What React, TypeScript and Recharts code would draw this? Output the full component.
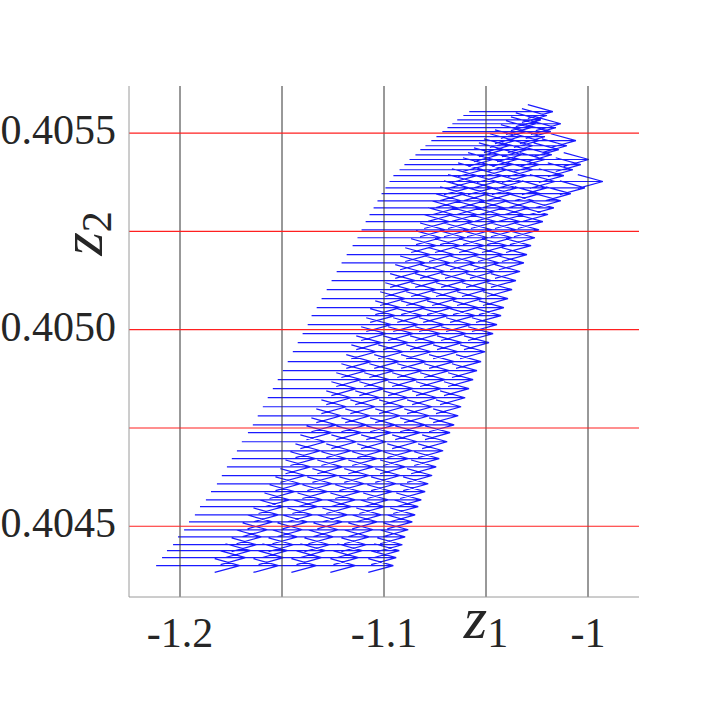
import React from 'react';
import { ComposedChart, Line, XAxis, YAxis } from 'recharts';

// row heights (z2) shared by every column of the quiver
const ROW_Y = [
  0.404400, 0.404420, 0.404438, 0.404453, 0.404473, 0.404491, 0.404511, 0.404529, 0.404550, 0.404567,
  0.404588, 0.404608, 0.404629, 0.404651, 0.404672, 0.404692, 0.404715, 0.404738, 0.404758, 0.404781,
  0.404804, 0.404827, 0.404850, 0.404873, 0.404896, 0.404919, 0.404944, 0.404967, 0.404990, 0.405013,
  0.405036, 0.405056, 0.405079, 0.405102, 0.405125, 0.405148, 0.405170, 0.405191, 0.405214, 0.405234,
  0.405254, 0.405275, 0.405293, 0.405310, 0.405328, 0.405346, 0.405361, 0.405377, 0.405392, 0.405407,
  0.405420, 0.405433, 0.405445, 0.405458, 0.405468, 0.405481, 0.405491, 0.405504, 0.405514, 0.405524,
  0.405534, 0.405545, 0.405555,
];

// arrow tails (z1) for each column, bottom row first
const COL0_X = [
  -1.2117, -1.2088, -1.2064, -1.2034, -1.2010, -1.1980, -1.1956, -1.1927, -1.1902, -1.1873,
  -1.1848, -1.1819, -1.1795, -1.1770, -1.1746, -1.1721, -1.1697, -1.1667, -1.1643, -1.1619,
  -1.1594, -1.1570, -1.1545, -1.1521, -1.1496, -1.1472, -1.1447, -1.1423, -1.1399, -1.1374,
  -1.1355, -1.1330, -1.1306, -1.1281, -1.1257, -1.1232, -1.1208, -1.1183, -1.1154, -1.1130,
  -1.1110, -1.1090, -1.1071, -1.1051, -1.1032, -1.1012, -1.0993, -1.0973, -1.0954, -1.0924,
  -1.0900, -1.0875, -1.0846, -1.0822, -1.0797, -1.0768, -1.0743, -1.0714, -1.0689, -1.0665,
  -1.0641, -1.0611, -1.0582,
];
const COL1_X = [
  -1.1927, -1.1902, -1.1883, -1.1853, -1.1834, -1.1809, -1.1785, -1.1760, -1.1736, -1.1711,
  -1.1687, -1.1663, -1.1638, -1.1614, -1.1594, -1.1570, -1.1545, -1.1521, -1.1496, -1.1477,
  -1.1452, -1.1428, -1.1408, -1.1384, -1.1359, -1.1335, -1.1315, -1.1291, -1.1267, -1.1242,
  -1.1222, -1.1203, -1.1178, -1.1154, -1.1134, -1.1110, -1.1086, -1.1066, -1.1037, -1.1012,
  -1.0993, -1.0973, -1.0954, -1.0934, -1.0914, -1.0895, -1.0875, -1.0856, -1.0831, -1.0807,
  -1.0782, -1.0758, -1.0733, -1.0709, -1.0680, -1.0650, -1.0621, -1.0592, -1.0567, -1.0543,
];
const COL2_X = [
  -1.1741, -1.1716, -1.1697, -1.1677, -1.1658, -1.1633, -1.1614, -1.1589, -1.1570, -1.1550,
  -1.1526, -1.1506, -1.1482, -1.1462, -1.1443, -1.1418, -1.1399, -1.1374, -1.1355, -1.1330,
  -1.1311, -1.1291, -1.1267, -1.1247, -1.1222, -1.1203, -1.1178, -1.1159, -1.1134, -1.1115,
  -1.1095, -1.1076, -1.1051, -1.1032, -1.1007, -1.0988, -1.0963, -1.0944, -1.0919, -1.0900,
  -1.0880, -1.0861, -1.0841, -1.0822, -1.0802, -1.0782, -1.0758, -1.0733, -1.0709, -1.0680,
  -1.0650, -1.0621, -1.0587, -1.0553, -1.0513, -1.0469,
];
const COL3_X = [
  -1.1550, -1.1535, -1.1516, -1.1496, -1.1482, -1.1462, -1.1443, -1.1423, -1.1408, -1.1389,
  -1.1369, -1.1350, -1.1330, -1.1306, -1.1291, -1.1271, -1.1247, -1.1232, -1.1208, -1.1188,
  -1.1174, -1.1149, -1.1130, -1.1110, -1.1090, -1.1066, -1.1046, -1.1027, -1.1007, -1.0983,
  -1.0963, -1.0949, -1.0929, -1.0905, -1.0885, -1.0866, -1.0846, -1.0826, -1.0807, -1.0782,
  -1.0763, -1.0743, -1.0724, -1.0699, -1.0675, -1.0645, -1.0611, -1.0572, -1.0528, -1.0484,
  -1.0445, -1.0406,
];
const COL4_X = [
  -1.1364, -1.1350, -1.1335, -1.1320, -1.1306, -1.1291, -1.1271, -1.1257, -1.1242, -1.1227,
  -1.1208, -1.1193, -1.1174, -1.1154, -1.1139, -1.1120, -1.1100, -1.1086, -1.1066, -1.1046,
  -1.1032, -1.1012, -1.0993, -1.0973, -1.0954, -1.0934, -1.0914, -1.0895, -1.0875, -1.0856,
  -1.0836, -1.0822, -1.0802, -1.0782, -1.0763, -1.0743, -1.0724, -1.0709, -1.0689, -1.0670,
  -1.0650, -1.0631, -1.0606, -1.0577, -1.0543, -1.0494, -1.0425, -1.0337,
];
const COLUMNS = [COL0_X, COL1_X, COL2_X, COL3_X, COL4_X];

// quiver vector (z1 direction), same for every arrow
const ARROW_U = 0.041;

const X_DOMAIN = [-1.225, -0.975];
const Y_DOMAIN = [0.40432, 0.40562];
const X_TICKS = [-1.2, -1.15, -1.1, -1.05, -1];
const X_LABELS = ['-1.2', '', '-1.1', 'z1', '-1'];
const Y_TICKS = [0.4045, 0.40475, 0.405, 0.40525, 0.4055];
const Y_LABELS = ['0.4045', '', '0.4050', 'z2', '0.4055'];

const HEAD_BACK = 0.3;
const HEAD_HALF = 1.75e-5;

const arrowPoints: any[] = [];
COLUMNS.forEach((xs) => {
  xs.forEach((x0, j) => {
    const y0 = ROW_Y[j];
    const tip = x0 + ARROW_U;
    const back = tip - HEAD_BACK * ARROW_U;
    arrowPoints.push(
      { x: x0, y: y0 },
      { x: tip, y: y0 },
      { x: back, y: y0 + HEAD_HALF },
      { x: back, y: null },
      { x: back, y: y0 - HEAD_HALF },
      { x: tip, y: y0 },
      { x: tip, y: null },
    );
  });
});

// grid drawn on top of the arrows, like the original
const vGrid: any[] = [];
X_TICKS.forEach((t) => vGrid.push({ x: t, y: Y_DOMAIN[0] }, { x: t, y: Y_DOMAIN[1] }, { x: t, y: null }));

const FONT = '"Liberation Serif", "Times New Roman", serif';
const TEXT = '#262626';

const XTick = (props: any) => {
  const { x, y, payload } = props;
  const i = X_TICKS.findIndex((t) => Math.abs(t - payload.value) < 1e-6);
  const label = X_LABELS[i];
  if (!label) return null;
  if (label === 'z1') {
    return (
      <text x={x} y={y + 41} textAnchor="middle" fill={TEXT} fontFamily={FONT}>
        <tspan fontStyle="italic" fontSize={60}>z</tspan>
        <tspan fontSize={42} dy={9}>1</tspan>
      </text>
    );
  }
  return (
    <text x={x} y={y + 50} textAnchor="middle" fill={TEXT} fontFamily={FONT} fontSize={42}>
      {label}
    </text>
  );
};

const YTick = (props: any) => {
  const { x, y, payload } = props;
  const i = Y_TICKS.findIndex((t) => Math.abs(t - payload.value) < 1e-9);
  const label = Y_LABELS[i];
  if (!label) return null;
  if (label === 'z2') {
    return (
      <text transform={`translate(${x - 14}, ${y + 2}) rotate(-90)`} textAnchor="middle" fill={TEXT} fontFamily={FONT}>
        <tspan fontStyle="italic" fontSize={60}>z</tspan>
        <tspan fontSize={42} dy={9}>2</tspan>
      </text>
    );
  }
  return (
    <text x={x} y={y + 11} textAnchor="end" fill={TEXT} fontFamily={FONT} fontSize={42}>
      {label}
    </text>
  );
};

export default function App() {
  return (
    <div style={{ position: 'absolute', left: 0, top: 0, width: 706, height: 706, background: '#fff' }}>
      <ComposedChart width={706} height={706} margin={{ top: 86, right: 67, bottom: 0, left: 0 }}>
        <XAxis
          type="number"
          dataKey="x"
          domain={X_DOMAIN}
          ticks={X_TICKS}
          allowDataOverflow
          height={109}
          tickSize={0}
          tickMargin={0}
          tickLine={false}
          axisLine={{ stroke: '#9a9a9a' }}
          tick={<XTick />}
          interval={0}
        />
        <YAxis
          type="number"
          dataKey="y"
          domain={Y_DOMAIN}
          ticks={Y_TICKS}
          allowDataOverflow
          width={129}
          tickSize={0}
          tickMargin={13}
          tickLine={false}
          axisLine={{ stroke: '#9a9a9a' }}
          tick={<YTick />}
          interval={0}
        />
        <Line
          data={arrowPoints}
          dataKey="y"
          stroke="#1a1aff"
          strokeWidth={1.2}
          dot={false}
          activeDot={false}
          connectNulls={false}
          isAnimationActive={false}
        />
        <Line
          data={vGrid}
          dataKey="y"
          stroke="#333333"
          strokeWidth={1}
          dot={false}
          activeDot={false}
          connectNulls={false}
          isAnimationActive={false}
        />
        {Y_TICKS.map((t) => (
          <Line
            key={'h' + t}
            data={[{ x: X_DOMAIN[0], y: t }, { x: X_DOMAIN[1], y: t }]}
            dataKey="y"
            stroke="#ff2020"
            strokeWidth={1.2}
            dot={false}
            activeDot={false}
            isAnimationActive={false}
          />
        ))}
      </ComposedChart>
    </div>
  );
}
